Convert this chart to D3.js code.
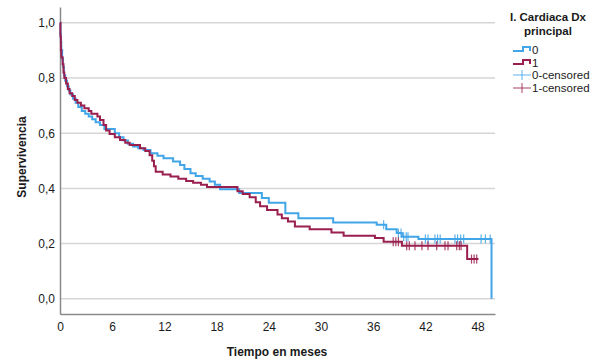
<!DOCTYPE html>
<html>
<head>
<meta charset="utf-8">
<script src="https://cdn.jsdelivr.net/npm/d3@7"></script>
<style>
  body { margin: 0; background: #fff; }
  svg { display: block; font-family: "Liberation Sans", Arial, sans-serif; }
</style>
</head>
<body>
<svg id="chart" width="600" height="364"></svg>
<script>
// ---- Data ----
const xTicks = [0, 6, 12, 18, 24, 30, 36, 42, 48];
const yTicks = [0, 0.2, 0.4, 0.6, 0.8, 1.0];
const groups = ["0", "1"];
const legendTitle = ["I. Cardiaca Dx", "principal"];
const legendLabels = ["0", "1", "0-censored", "1-censored"];

// Group 0 (blue): step change times and survival after each step
const times0 = [0, 0.05, 0.1, 0.15, 0.25, 0.35, 0.45, 0.6, 0.8, 1.0, 1.2, 1.5, 1.8, 2.1, 2.5, 2.9, 3.3, 3.7, 4.1, 4.6, 5.1,
  6.3, 6.8, 7.3, 7.8, 8.4, 9.0, 9.6, 10.4, 11.2, 11.9, 13.0, 13.8, 14.3, 15.0, 15.6, 16.4, 17.2, 17.8, 18.4,
  20.6, 23.2, 24.0, 25.9, 27.4, 31.4, 36.4, 37.5, 38.7, 39.3, 41.2, 49.6];
const surv0 = [1.0, 0.96, 0.93, 0.90, 0.87, 0.84, 0.81, 0.79, 0.77, 0.755, 0.74, 0.725, 0.71, 0.695, 0.68, 0.67, 0.66, 0.65, 0.64, 0.63, 0.615,
  0.60, 0.585, 0.573, 0.562, 0.552, 0.545, 0.539, 0.527, 0.518, 0.509, 0.497, 0.485, 0.47, 0.455, 0.445, 0.435, 0.425, 0.413, 0.397,
  0.383, 0.365, 0.348, 0.31, 0.292, 0.276, 0.268, 0.252, 0.238, 0.225, 0.217, 0];
const censor0 = [37.2, 38.9, 39.2, 39.5, 39.8, 40.0, 42.0, 42.3, 43.1, 43.4, 43.7, 45.4, 45.7, 46.05, 46.4, 48.4, 48.9, 49.45];

// Group 1 (maroon)
const times1 = [0, 0.05, 0.1, 0.15, 0.3, 0.4, 0.5, 0.7, 0.9, 1.1, 1.4, 1.7, 2.0, 2.4, 2.8, 3.3, 3.6, 4.3, 4.6, 5.0, 5.3, 5.7,
  6.3, 6.9, 7.5, 8.0, 9.2, 9.8, 10.3, 10.6, 10.8, 11.0, 11.8, 12.7, 13.6, 14.5, 15.3, 16.2, 16.9,
  20.4, 21.0, 21.8, 22.5, 23.0, 23.8, 25.0, 25.5, 26.2, 27.0, 28.7, 31.2, 32.6, 36.2, 37.2, 39.3, 46.8, 48.1];
const surv1 = [1.0, 0.95, 0.90, 0.875, 0.85, 0.82, 0.80, 0.78, 0.76, 0.745, 0.735, 0.72, 0.71, 0.70, 0.69, 0.68, 0.67, 0.66, 0.648, 0.63, 0.61, 0.597,
  0.585, 0.575, 0.565, 0.557, 0.545, 0.535, 0.52, 0.50, 0.48, 0.46, 0.45, 0.443, 0.435, 0.427, 0.42, 0.413, 0.405,
  0.39, 0.38, 0.368, 0.35, 0.335, 0.322, 0.305, 0.292, 0.28, 0.262, 0.252, 0.24, 0.228, 0.22, 0.207, 0.192, 0.144, 0.144];
const censor1 = [38.3, 38.6, 38.9, 39.85, 40.15, 40.8, 41.6, 42.3, 43.3, 44.25, 44.6, 45.6, 45.9, 46.1, 47.3, 47.6, 47.9];

// ---- Layout ----
const svg = d3.select("#chart");
const colors = { "0": "#42a5e8", "1": "#9a1f4e" };
const x = d3.scaleLinear().domain([0, 50]).range([60, 495]);
const y = d3.scaleLinear().domain([-0.055, 1.057]).range([314, 7]);

// gridlines
svg.append("g").selectAll("line").data(yTicks).join("line")
  .attr("x1", x(0)).attr("x2", x(50))
  .attr("y1", d => y(d)).attr("y2", d => y(d))
  .attr("stroke", "#d6d6d6").attr("stroke-width", 1.5);

// axes
const fmt = d3.format(".1f");
const yAxis = d3.axisLeft(y).tickValues(yTicks).tickSize(0).tickPadding(5)
  .tickFormat(d => fmt(d).replace(".", ","));
const gy = svg.append("g").attr("transform", `translate(${x(0)},0)`).call(yAxis);
const xAxis = d3.axisBottom(x).tickValues(xTicks).tickSize(0).tickPadding(8);
const gx = svg.append("g").attr("transform", `translate(0,${y.range()[0]})`).call(xAxis);
[gx, gy].forEach(g => {
  g.select(".domain").attr("stroke", "#8a8a8a").attr("stroke-width", 1.5);
  g.selectAll("text").attr("font-size", 12).attr("fill", "#1a1a1a")
    .attr("font-family", "'Liberation Sans', Arial, sans-serif");
});

// curves
const series = [
  { g: "0", t: times0, s: surv0, c: censor0 },
  { g: "1", t: times1, s: surv1, c: censor1 }
];
const line = d3.line().x(d => x(d[0])).y(d => y(d[1])).curve(d3.curveStepAfter);
series.forEach(sr => {
  const pts = sr.t.map((t, i) => [t, sr.s[i]]);
  svg.append("path").attr("d", line(pts)).attr("fill", "none")
    .attr("stroke", colors[sr.g]).attr("stroke-width", 2);
});
// censor marks
series.forEach(sr => {
  const survAt = t => { let v = 1; sr.t.forEach((tt, i) => { if (tt <= t) v = sr.s[i]; }); return v; };
  svg.append("g").selectAll("line").data(sr.c).join("line")
    .attr("x1", d => x(d)).attr("x2", d => x(d))
    .attr("y1", d => y(survAt(d)) - 4.5).attr("y2", d => y(survAt(d)) + 4.5)
    .attr("stroke", colors[sr.g]).attr("stroke-width", 1.2).attr("opacity", 0.85);
});

// axis titles
svg.append("text").attr("x", 277).attr("y", 356).attr("text-anchor", "middle")
  .attr("font-size", 12).attr("font-weight", "bold").attr("fill", "#1a1a1a").text("Tiempo en meses");
svg.append("text").attr("transform", "translate(26,157) rotate(-90)").attr("text-anchor", "middle")
  .attr("font-size", 12).attr("font-weight", "bold").attr("fill", "#1a1a1a").text("Supervivencia");

// legend
const lg = svg.append("g");
legendTitle.forEach((t, i) => {
  lg.append("text").attr("x", 548).attr("y", 21 + i * 13.5).attr("text-anchor", "middle")
    .attr("font-size", 11.5).attr("font-weight", "bold").attr("fill", "#1a1a1a").text(t);
});
const rowY = [50, 63, 75, 88];
const narrow = "'Liberation Sans Narrow', 'Arial Narrow', 'Liberation Sans', sans-serif";
legendLabels.forEach((lab, i) => {
  const cy = rowY[i];
  const col = colors[groups[i % 2]];
  if (i < 2) {
    lg.append("path").attr("fill", "none").attr("stroke", col).attr("stroke-width", 2)
      .attr("d", `M513,${cy + 1}H523V${cy - 3}H530V${cy + 1}`);
  } else {
    lg.append("path").attr("fill", "none").attr("stroke", col).attr("stroke-width", 1).attr("opacity", 0.85)
      .attr("d", `M513,${cy}H531M522,${cy - 5}V${cy + 5}`);
  }
  lg.append("text").attr("x", 532).attr("y", cy + 4).attr("font-size", 11.5)
    .attr("font-family", narrow).attr("fill", "#1a1a1a").text(lab);
});
</script>
</body>
</html>
